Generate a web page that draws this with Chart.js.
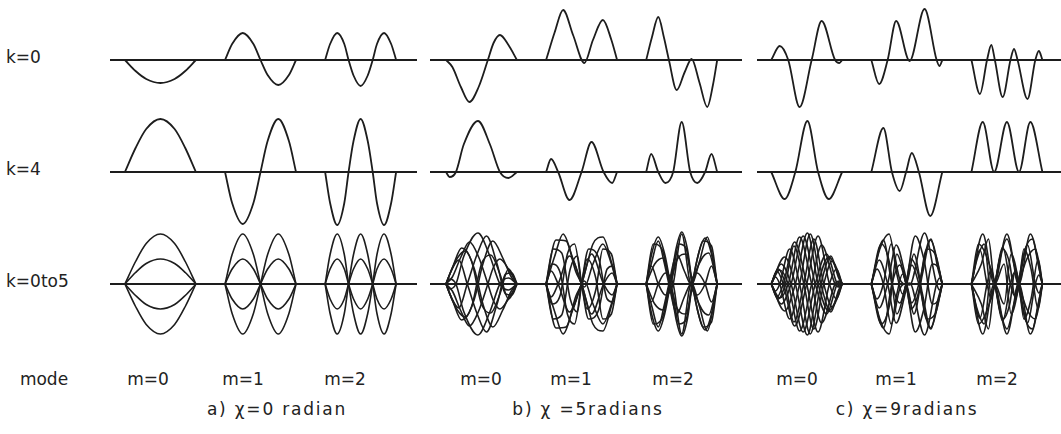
<!DOCTYPE html>
<html>
<head>
<meta charset="utf-8">
<script src="https://cdn.jsdelivr.net/npm/chart.js@4.4.1/dist/chart.umd.min.js"></script>
<style>
    html, body { margin: 0; padding: 0; background: #fff; }
    #fig { position: relative; width: 1061px; height: 434px; overflow: hidden;
           font-family: "DejaVu Sans", sans-serif; color: #222; }
    #fig canvas { position: absolute; }
    .lbl { position: absolute; font-size: 17px; line-height: 1; white-space: nowrap; }
    .ctr { transform: translate(-50%, -50%); }
    .lft { transform: translateY(-50%); }
    .ttl { letter-spacing: 1.8px; }
</style>
</head>
<body>
<div id="fig"></div>
<script>
(function () {
    'use strict';

    // ── Labels ───────────────────────────────────────────────────────
    var rowLabels   = ['k=0', 'k=4', 'k=0to5'];
    var modeLabels  = ['m=0', 'm=1', 'm=2'];
    var groupTitles = ['a) χ=0 radian', 'b) χ =5radians', 'c) χ=9radians'];

    // ── Mode shapes: [position along beam %, amplitude] ──────────────
    // χ = 0
    var chi0_k0_m0 = [[0,0],[15,-22],[30,-38],[50,-46],[70,-38],[85,-22],[100,0]];
    var chi0_k0_m1 = [[0,0],[10,32],[25,54],[40,32],[50,0],[60,-30],[75,-50],[90,-30],[100,0]];
    var chi0_k0_m2 = [[0,0],[7,32],[17,54],[27,32],[33,0],[40,-31],[50,-52],[60,-31],[67,0],[73,32],[83,54],[93,32],[100,0]];
    var chi0_k4_m0 = [[0,0],[15,48],[30,86],[50,106],[70,86],[85,48],[100,0]];
    var chi0_k4_m1 = [[0,0],[10,-62],[25,-104],[40,-62],[50,0],[60,62],[75,106],[90,62],[100,0]];
    var chi0_k4_m2 = [[0,0],[7,-62],[17,-106],[27,-62],[33,0],[40,62],[50,106],[60,62],[67,0],[73,-62],[83,-106],[93,-62],[100,0]];
    var chi0_all_m0 = [
        [[0,0],[15,45],[30,81],[50,100],[70,81],[85,45],[100,0]],
        [[0,0],[15,23],[30,41],[50,50],[70,41],[85,23],[100,0]]
    ];
    var chi0_all_m1 = [
        [[0,0],[10,59],[25,100],[40,59],[50,0],[60,-59],[75,-100],[90,-59],[100,0]],
        [[0,0],[10,30],[25,50],[40,30],[50,0],[60,-30],[75,-50],[90,-30],[100,0]]
    ];
    var chi0_all_m2 = [
        [[0,0],[7,59],[17,100],[27,59],[33,0],[40,-59],[50,-100],[60,-59],[67,0],[73,59],[83,100],[93,59],[100,0]],
        [[0,0],[7,30],[17,50],[27,30],[33,0],[40,-30],[50,-50],[60,-30],[67,0],[73,30],[83,50],[93,30],[100,0]]
    ];

    // χ = 5
    var chi5_k0_m0 = [[0,0],[9,-14],[21,-54],[33,-84],[46,-54],[59,0],[67,34],[76,50],[88,30],[100,0]];
    var chi5_k0_m1 = [[0,0],[12,55],[24,100],[38,50],[54,-6],[66,40],[80,80],[92,40],[100,0]];
    var chi5_k0_m2 = [[0,0],[8,45],[17,86],[25,45],[32,0],[43,-60],[54,-25],[64,2],[75,-45],[86,-94],[94,-50],[100,0]];
    var chi5_k4_m0 = [[0,0],[5,-10],[14,0],[25,55],[45,102],[62,55],[76,0],[88,-12],[100,0]];
    var chi5_k4_m1 = [[0,0],[7,26],[17,0],[33,-56],[50,0],[64,60],[81,0],[93,-22],[100,0]];
    var chi5_k4_m2 = [[0,0],[7,36],[17,0],[27,-22],[38,0],[50,100],[62,0],[72,-22],[83,0],[92,36],[100,0]];
    var chi5_all_m0 = [
        chi5_k0_m0, chi5_k4_m0,
        [[0,0],[6,22],[16,52],[27,66],[40,30],[52,-40],[66,-86],[80,-52],[92,-14],[100,0]],
        [[0,0],[8,-28],[18,-48],[30,0],[44,60],[57,96],[72,40],[84,-20],[93,-22],[100,0]],
        [[0,0],[10,36],[22,72],[36,46],[50,-40],[63,-58],[76,-20],[88,30],[100,0]]
    ];
    var chi5_all_m1 = [
        chi5_k0_m1, chi5_k4_m1,
        [[0,0],[10,70],[22,62],[34,-30],[44,-56],[50,0],[60,70],[74,52],[86,-30],[94,-36],[100,0]],
        [[0,0],[8,-40],[20,-22],[30,60],[40,80],[50,0],[58,-50],[70,-12],[80,70],[92,60],[100,0]],
        [[0,0],[14,88],[28,86],[42,24],[50,0],[56,-30],[66,-80],[80,-94],[92,-44],[100,0]]
    ];
    var chi5_all_m2 = [
        chi5_k0_m2, chi5_k4_m2,
        [[0,0],[8,62],[17,94],[26,60],[34,0],[42,-70],[50,-104],[58,-70],[65,0],[74,62],[83,92],[92,60],[100,0]],
        [[0,0],[10,80],[22,70],[34,0],[44,-50],[56,-60],[65,0],[72,50],[80,86],[92,76],[100,0]],
        [[0,0],[12,40],[24,52],[34,0],[46,80],[56,72],[65,0],[78,-50],[88,-62],[100,0]]
    ];

    // χ = 9
    var chi9_k0_m0 = [[0,0],[12,28],[24,0],[40,-94],[57,0],[71,78],[90,0],[96,-6],[100,0]];
    var chi9_k0_m1 = [[0,0],[11,-48],[23,0],[35,78],[54,-2],[75,102],[92,0],[96,-12],[100,0]];
    var chi9_k0_m2 = [[0,0],[12,-68],[22,0],[28,30],[33,0],[44,-74],[55,0],[60,22],[65,0],[79,-78],[90,0],[95,18],[100,0]];
    var chi9_k4_m0 = [[0,0],[19,-54],[34,0],[51,102],[66,0],[81,-54],[100,0]];
    var chi9_k4_m1 = [[0,0],[17,88],[29,0],[40,-38],[49,0],[57,38],[67,0],[83,-88],[100,0]];
    var chi9_k4_m2 = [[0,0],[16,100],[32,0],[50,100],[67,0],[83,100],[100,0]];
    var chi9_all_m0 = [
        chi9_k0_m0, chi9_k4_m0,
        [[0,0],[10,-30],[20,0],[32,76],[46,0],[60,-90],[74,0],[86,46],[100,0]],
        [[0,0],[14,40],[28,0],[45,-96],[62,0],[78,60],[93,0],[97,-4],[100,0]],
        [[0,0],[6,-14],[12,0],[26,70],[40,0],[55,-100],[70,0],[84,56],[95,12],[100,0]],
        [[0,0],[8,26],[17,0],[33,-84],[50,0],[66,96],[82,0],[92,-30],[100,0]]
    ];
    var chi9_all_m1 = [
        chi9_k0_m1, chi9_k4_m1,
        [[0,0],[8,30],[17,0],[28,-80],[40,-10],[49,0],[60,-60],[72,20],[84,90],[94,30],[100,0]],
        [[0,0],[12,70],[25,100],[36,20],[44,-20],[49,0],[56,50],[66,20],[78,-70],[90,-60],[100,0]],
        [[0,0],[14,-80],[26,-40],[36,60],[44,30],[49,0],[62,-96],[74,-50],[86,40],[95,30],[100,0]]
    ];
    var chi9_all_m2 = [
        chi9_k0_m2, chi9_k4_m2,
        [[0,0],[10,80],[20,60],[33,0],[40,-50],[50,-90],[60,-40],[67,0],[76,70],[86,90],[94,40],[100,0]],
        [[0,0],[8,50],[18,80],[28,-20],[33,0],[44,70],[54,40],[62,-30],[67,0],[78,50],[90,70],[100,0]],
        [[0,0],[14,-40],[24,-90],[33,0],[46,-40],[56,60],[67,0],[74,-70],[84,-30],[94,50],[100,0]]
    ];

    // ── Layout ───────────────────────────────────────────────────────
    var ink = '#1d1d1d';
    var PX_PER_UNIT = 0.71;   // 100 beam units ≈ 71 px
    var MODE_STEP   = 141;    // distance between mode cells, in beam units
    var AMP_RANGE   = 120;
    var ROW_H       = 120;
    var rowTops     = [0, 112, 224];
    var groupBoxes  = [
        { left: 110, width: 307, xMin: -21 },
        { left: 430, width: 312, xMin: -22.5 },
        { left: 757, width: 304, xMin: -20 }
    ];
    var labelRowY   = [57, 169, 281];
    var modeX       = [[148, 243, 345], [481, 571, 673], [797, 896, 997]];
    var modeY       = 379;
    var titleX      = [277, 588, 907];
    var titleY      = 409;

    var single = [
        [[chi0_k0_m0, chi0_k0_m1, chi0_k0_m2], [chi0_k4_m0, chi0_k4_m1, chi0_k4_m2]],
        [[chi5_k0_m0, chi5_k0_m1, chi5_k0_m2], [chi5_k4_m0, chi5_k4_m1, chi5_k4_m2]],
        [[chi9_k0_m0, chi9_k0_m1, chi9_k0_m2], [chi9_k4_m0, chi9_k4_m1, chi9_k4_m2]]
    ];
    var overlay = [
        [chi0_all_m0, chi0_all_m1, chi0_all_m2],
        [chi5_all_m0, chi5_all_m1, chi5_all_m2],
        [chi9_all_m0, chi9_all_m1, chi9_all_m2]
    ];

    var fig = document.getElementById('fig');

    function toPoints(curve, m) {
        return curve.map(function (p) { return { x: m * MODE_STEP + p[0], y: p[1] }; });
    }

    function lineSet(points, axis, width) {
        return {
            data: points,
            yAxisID: axis,
            showLine: true,
            borderColor: ink,
            borderWidth: width,
            pointRadius: 0,
            cubicInterpolationMode: 'monotone',
            clip: 6
        };
    }

    function drawPanel(g, r) {
        var box  = groupBoxes[g];
        var xMax = box.xMin + box.width / PX_PER_UNIT;
        var cv = document.createElement('canvas');
        cv.width = box.width; cv.height = ROW_H;
        cv.style.left = box.left + 'px'; cv.style.top = rowTops[r] + 'px';
        cv.style.width = box.width + 'px'; cv.style.height = ROW_H + 'px';
        fig.appendChild(cv);

        var ds = [lineSet([{ x: box.xMin, y: 0 }, { x: xMax, y: 0 }], 'y', 2.2)];
        for (var m = 0; m < 3; m++) {
            if (r < 2) {
                ds.push(lineSet(toPoints(single[g][r][m], m), 'y', 1.8));
            } else {
                // each k-shape with its mirror image (same data, reversed axis)
                overlay[g][m].forEach(function (c) {
                    ds.push(lineSet(toPoints(c, m), 'y', 1.6));
                    ds.push(lineSet(toPoints(c, m), 'yf', 1.6));
                });
            }
        }

        new Chart(cv, {
            type: 'scatter',
            data: { datasets: ds },
            options: {
                responsive: false,
                animation: false,
                events: [],
                layout: { padding: 0 },
                plugins: { legend: { display: false }, tooltip: { enabled: false } },
                scales: {
                    x:  { type: 'linear', display: false, min: box.xMin, max: xMax },
                    y:  { display: false, min: -AMP_RANGE, max: AMP_RANGE },
                    yf: { display: false, min: -AMP_RANGE, max: AMP_RANGE, reverse: true }
                }
            }
        });
    }

    function addLabel(text, x, y, cls) {
        var el = document.createElement('div');
        el.className = 'lbl ' + cls;
        el.textContent = text;
        el.style.left = x + 'px';
        el.style.top = y + 'px';
        fig.appendChild(el);
    }

    for (var g = 0; g < 3; g++) {
        for (var r = 0; r < 3; r++) drawPanel(g, r);
    }

    rowLabels.forEach(function (t, i) { addLabel(t, 6, labelRowY[i], 'lft'); });
    addLabel('mode', 44, modeY, 'ctr');
    modeX.forEach(function (xs) {
        xs.forEach(function (x, m) { addLabel(modeLabels[m], x, modeY, 'ctr'); });
    });
    groupTitles.forEach(function (t, g) { addLabel(t, titleX[g], titleY, 'ctr ttl'); });
})();
</script>
</body>
</html>
